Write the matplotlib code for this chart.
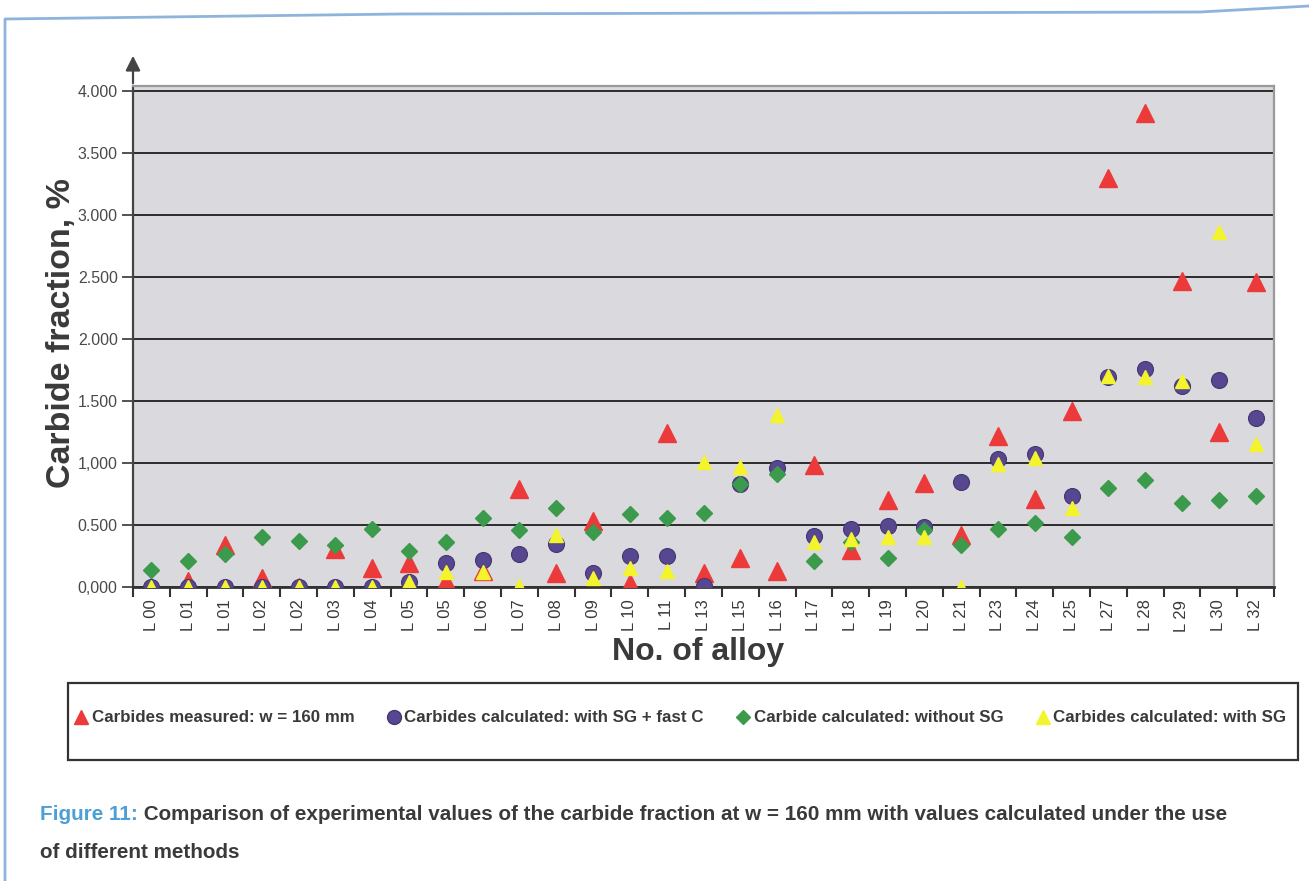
import matplotlib
matplotlib.use("Agg")
import matplotlib.pyplot as plt
import numpy as np
from matplotlib.lines import Line2D
from matplotlib.patches import Rectangle, FancyArrowPatch

categories = ["L 00", "L 01", "L 01", "L 02", "L 02", "L 03", "L 04", "L 05", "L 05",
              "L 06", "L 07", "L 08", "L 09", "L 10", "L 11", "L 13", "L 15", "L 16",
              "L 17", "L 18", "L 19", "L 20", "L 21", "L 23", "L 24", "L 25", "L 27",
              "L 28", "L 29", "L 30", "L 32"]

measured = [0.00, 0.05, 0.34, 0.07, 0.00, 0.31, 0.15, 0.19, 0.05, 0.13, 0.79, 0.11,
            0.53, 0.03, 1.24, 0.11, 0.23, 0.13, 0.98, 0.30, 0.70, 0.84, 0.42, 1.22,
            0.71, 1.42, 3.30, 3.82, 2.47, 1.25, 2.46]

calc_sg_fast_c = [0.00, 0.00, 0.00, 0.00, 0.00, 0.00, 0.00, 0.04, 0.19, 0.22, 0.27, 0.35,
                  0.11, 0.25, 0.25, 0.01, 0.83, 0.96, 0.41, 0.47, 0.49, 0.48, 0.85, 1.03,
                  1.07, 0.73, 1.69, 1.76, 1.62, 1.67, 1.36]

calc_without_sg = [0.14, 0.21, 0.27, 0.40, 0.37, 0.34, 0.47, 0.29, 0.36, 0.56, 0.46, 0.64,
                   0.44, 0.59, 0.56, 0.60, 0.83, 0.91, 0.21, 0.36, 0.235, 0.46, 0.34, 0.47,
                   0.52, 0.40, 0.80, 0.86, 0.68, 0.70, 0.73]

calc_with_sg = [0.00, 0.00, 0.00, 0.00, 0.00, 0.00, 0.00, 0.04, 0.12, 0.12, 0.01, 0.42,
                0.07, 0.15, 0.13, 1.01, 0.97, 1.39, 0.36, 0.39, 0.40, 0.40, 0.00, 0.99,
                1.04, 0.64, 1.70, 1.69, 1.66, 2.86, 1.15]

y_ticks = [0.0, 0.5, 1.0, 1.5, 2.0, 2.5, 3.0, 3.5, 4.0]
y_tick_labels = ["0,000", "0.500", "1,000", "1.500", "2.000", "2.500", "3.000", "3.500", "4.000"]

series_labels = ["Carbides measured: w = 160 mm",
                 "Carbides calculated: with SG + fast C",
                 "Carbide calculated: without SG",
                 "Carbides calculated: with SG"]

RED = "#ec3a3a"
PURPLE = "#574690"
GREEN = "#3c9a4c"
YELLOW = "#f4f42c"
TXT = "#3a3a3a"
SANS = ["Liberation Sans", "DejaVu Sans"]

W, H = 1309, 881
fig = plt.figure(figsize=(W / 100, H / 100), dpi=100)
fig.patch.set_facecolor("white")


def fx(px):
    return px / W


def fy(py):
    return 1 - py / H


ax = fig.add_axes([fx(133), fy(587), fx(1274) - fx(133), fy(86) - fy(587)])
ax.set_facecolor("#d9d9de")

x = np.arange(len(categories))
ax.plot(x, measured, ls="none", marker="^", ms=12.5, color=RED, mec=RED, zorder=3)
ax.plot(x, calc_sg_fast_c, ls="none", marker="o", ms=11.5, color=PURPLE, mec="#45376f",
        mew=0.8, zorder=4)
ax.plot(x, calc_without_sg, ls="none", marker="D", ms=8.5, color=GREEN, mec=GREEN, zorder=5)
ax.plot(x, calc_with_sg, ls="none", marker="^", ms=10.5, color=YELLOW, mec=YELLOW, zorder=6)

ax.set_xlim(-0.5, len(categories) - 0.5)
ax.set_ylim(0, 4.04)

ax.set_yticks(y_ticks)
ax.set_yticklabels(y_tick_labels, fontsize=11.5, color="#4a4a4a", family=SANS)
ax.yaxis.grid(True, color="#1e1e1e", lw=1.3)
ax.set_axisbelow(True)
ax.tick_params(axis="y", direction="out", length=8, width=1.3, color="#444", pad=3)

ax.set_xticks(x)
ax.set_xticklabels(categories, rotation=90, fontsize=12, color=TXT, family=SANS)
ax.set_xticks(np.arange(-0.5, len(categories), 1.0), minor=True)
ax.tick_params(axis="x", which="major", length=0, pad=9)
ax.tick_params(axis="x", which="minor", direction="out", length=7, width=1.5, color="#333")

for side in ("top", "right"):
    ax.spines[side].set_color("#9a9a9a")
    ax.spines[side].set_linewidth(1.6)
ax.spines["left"].set_color("#444")
ax.spines["left"].set_linewidth(1.6)
ax.spines["bottom"].set_color("#333")
ax.spines["bottom"].set_linewidth(2.0)

# arrow on top of the value axis
fig.add_artist(FancyArrowPatch(
    (fx(133), fy(86)), (fx(133), fy(53)), transform=fig.transFigure,
    arrowstyle="-|>", mutation_scale=22, color="#444", lw=1.6))

fig.text(fx(62), fy(333), "Carbide fraction, %", rotation=90, ha="center", va="center",
         fontsize=24.5, fontweight="bold", color=TXT, family=SANS)
fig.text(fx(698), fy(652), "No. of alloy", ha="center", va="center",
         fontsize=23, fontweight="bold", color=TXT, family=SANS)

# legend box
fig.add_artist(Rectangle((fx(68), fy(760)), fx(1298) - fx(68), fy(683) - fy(760),
                         transform=fig.transFigure, fill=False, ec="#333", lw=1.6))
handles = [
    Line2D([], [], ls="none", marker="^", ms=10, color=RED),
    Line2D([], [], ls="none", marker="o", ms=10, color=PURPLE, mec="#45376f"),
    Line2D([], [], ls="none", marker="D", ms=7, color=GREEN),
    Line2D([], [], ls="none", marker="^", ms=10, color=YELLOW),
]
leg = fig.legend(handles, series_labels, loc="center", bbox_to_anchor=(fx(680), fy(718)),
                 ncol=4, frameon=False, handlelength=0.9, handletextpad=0.15,
                 columnspacing=1.9, prop=dict(family=SANS, weight="bold", size=12.2))
for t in leg.get_texts():
    t.set_color(TXT)

# caption
cap_font = dict(family=SANS, weight="bold", size=14.85)
t1 = fig.text(fx(40), fy(815), "Figure 11:", color="#4d9fd6", va="center", **cap_font)
fig.canvas.draw()
bb = t1.get_window_extent()
fig.text(bb.x1 / W, fy(815), " Comparison of experimental values of the carbide fraction at "
         "w = 160 mm with values calculated under the use", color=TXT, va="center",
         **cap_font)
fig.text(fx(40), fy(852), "of different methods", color=TXT, va="center", **cap_font)

# page frame
fig.add_artist(Line2D([fx(5), fx(5), fx(400), fx(1200), fx(1309)],
                      [fy(881), fy(19), fy(14), fy(12), fy(6)],
                      transform=fig.transFigure, color="#8fb4dc", lw=2))

fig.savefig("out.png", dpi=100)
